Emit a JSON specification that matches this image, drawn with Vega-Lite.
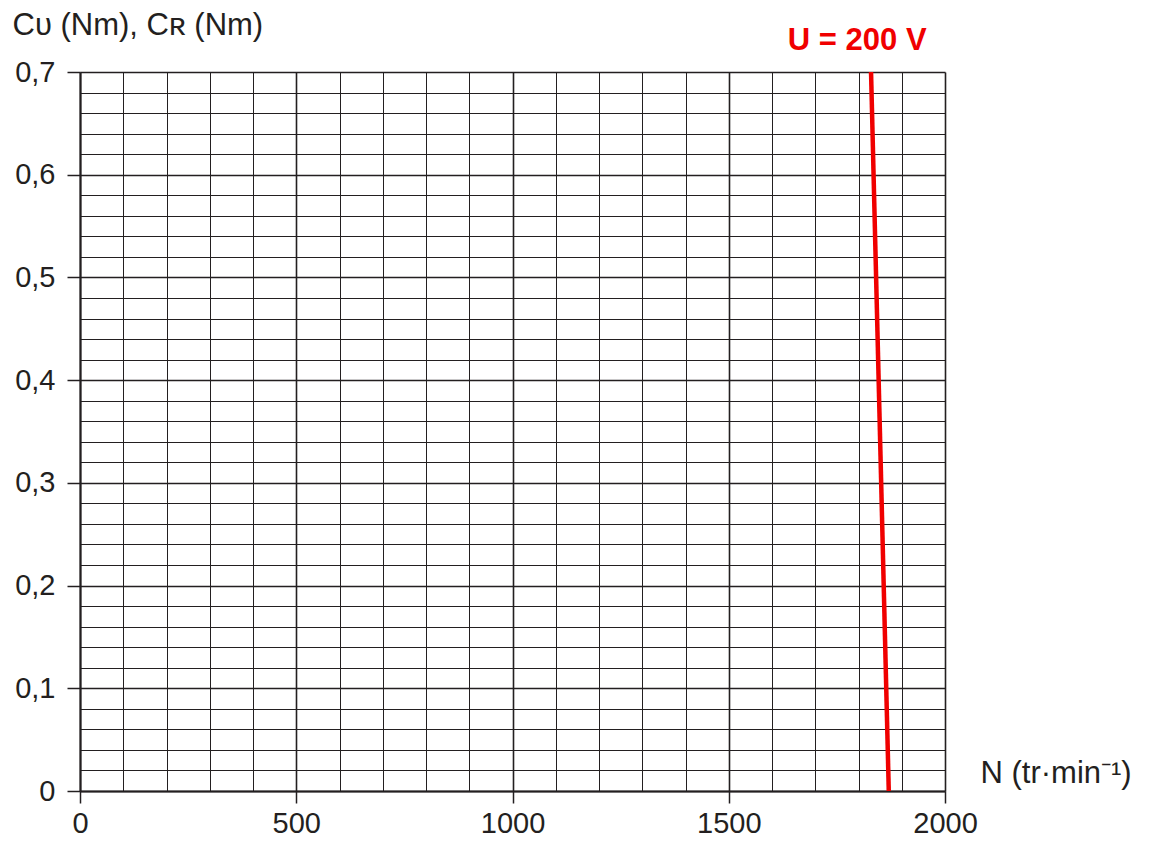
{
  "$schema": "https://vega.github.io/schema/vega-lite/v6.json",
  "width": 865,
  "height": 719,
  "autosize": {"type": "none"},
  "padding": {"left": 80, "top": 72, "right": 206, "bottom": 52},
  "background": "white",
  "config": {
    "view": {"stroke": null},
    "font": "Liberation Sans",
    "axis": {
      "gridColor": "#231f20",
      "gridOpacity": 1,
      "tickColor": "#231f20",
      "domainColor": "#231f20",
      "labelColor": "#231f20",
      "titleColor": "#231f20",
      "labelFont": "Liberation Sans",
      "titleFont": "Liberation Sans",
      "labelFontSize": 29,
      "titleFontSize": 31,
      "titleFontWeight": "normal"
    }
  },
  "datasets": {
    "line": [{"N": 1829, "C": 0.7}, {"N": 1870, "C": 0}],
    "label": [{"N": 1797, "C": 0.7297, "t": "U = 200 V"}]
  },
  "resolve": {"axis": {"x": "independent", "y": "independent"}},
  "layer": [
    {
      "data": {"name": "label"},
      "mark": {"type": "text", "font": "Liberation Sans", "fontSize": 31, "fontWeight": "bold", "color": "#f00000", "align": "center", "baseline": "middle"},
      "encoding": {
        "x": {"field": "N", "type": "quantitative", "scale": {"domain": [0, 2000], "nice": false, "zero": false},
          "axis": {"orient": "top", "grid": true, "gridWidth": 1, "values": [100,200,300,400,600,700,800,900,1100,1200,1300,1400,1600,1700,1800,1900],
            "labels": false, "ticks": false, "domain": false, "title": null}},
        "y": {"field": "C", "type": "quantitative", "scale": {"domain": [0, 0.7], "nice": false, "zero": false},
          "axis": {"orient": "right", "grid": true, "gridWidth": 1, "values": [0.02,0.04,0.06,0.08,0.12,0.14,0.16,0.18,0.22,0.24,0.26,0.28,0.32,0.34,0.36,0.38,0.42,0.44,0.46,0.48,0.52,0.54,0.56,0.58,0.62,0.64,0.66,0.68],
            "labels": false, "ticks": false, "domain": false, "title": null}},
        "text": {"field": "t"}
      }
    },
    {
      "data": {"name": "line"},
      "mark": {"type": "line", "color": "#f00000", "strokeWidth": 4.5},
      "encoding": {
        "x": {"field": "N", "type": "quantitative", "scale": {"domain": [0, 2000], "nice": false, "zero": false},
          "axis": {"orient": "bottom", "grid": true, "gridWidth": 1.6, "values": [0, 500, 1000, 1500, 2000],
            "labelExpr": "format(datum.value, 'd')", "tickSize": 12, "tickWidth": 1.5, "labelPadding": 6, "domainWidth": 2,
            "labelFlush": false, "labelOverlap": false,
            "title": "N (tr·min⁻¹)", "titleFontSize": 31, "titleX": 900, "titleY": -18, "titleAlign": "left", "titleBaseline": "middle", "titleAnchor": null}},
        "y": {"field": "C", "type": "quantitative", "scale": {"domain": [0, 0.7], "nice": false, "zero": false},
          "axis": {"orient": "left", "grid": true, "gridWidth": 1.6, "values": [0, 0.1, 0.2, 0.3, 0.4, 0.5, 0.6, 0.7],
            "labelExpr": "datum.value == 0 ? '0' : replace(format(datum.value, '.1f'), '.', ',')",
            "tickSize": 13, "tickWidth": 1.5, "labelPadding": 12, "domainWidth": 2, "labelFlush": false, "labelOverlap": false,
            "title": "Cᴜ (Nm), Cʀ (Nm)", "titleFontSize": 31, "titleAngle": 0, "titleX": -68, "titleY": -47, "titleAlign": "left", "titleBaseline": "middle", "titleAnchor": null}}
      }
    }
  ]
}
